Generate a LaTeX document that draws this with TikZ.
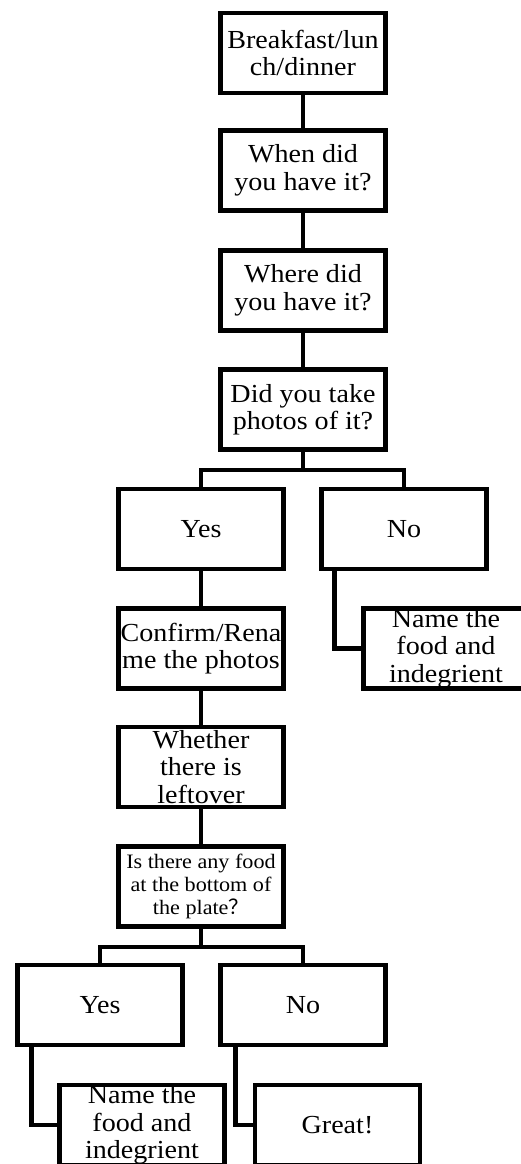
\documentclass[tikz,border=0pt]{standalone}
\usepackage{fontspec}
\setmainfont{Liberation Serif}[FakeStretch=1.08]
\newfontfamily\cjk{Noto Sans CJK SC}

\begin{document}
\begin{tikzpicture}[x=1pt, y=-1pt,
		box/.style={draw, line width=4.5pt, minimum width=165pt, minimum height=80pt, inner sep=0pt, align=center, font=\fontsize{26}{27.5}\selectfont},
		link/.style={line width=4.5pt}]
			%%%%% START %%%%%
			
			\useasboundingbox (0, 0) rectangle (521, 1164);
			
			\node[box] (meal) at (303, 53) {Breakfast/lun\\ch/dinner};
			\node[box] (when) at (303, 170.5) {When did\\you have it?};
			\node[box] (where) at (303, 290.5) {Where did\\you have it?};
			\node[box] (photos) at (303, 409.5) {Did you take\\photos of it?};
			
			\draw[link] (meal) -- (when);
			\draw[link] (when) -- (where);
			\draw[link] (where) -- (photos);
			
			\coordinate (split1) at (303, 470);
			\node[box] (yes) at (201, 529) {Yes};
			\node[box] (no) at (404, 529) {No};
			\draw[link] (photos) -- (split1);
			\draw[link] (yes.north) |- (split1) -| (no.north);
			
			\node[box] (namefood) at (446, 648.5) {Name the\\food and\\indegrient};
			\draw[link] ([xshift=15pt]no.south west) |- (namefood.west);
			
			\node[box] (rename) at (201, 648.5) {Confirm/Rena\\me the photos};
			\node[box] (leftover) at (201, 767) {Whether\\there is\\leftover};
			\node[box, font=\fontsize{20.5}{23}\selectfont] (plate) at (201, 886.5) {Is there any food\\at the bottom of\\the plate{\cjk ？}};
			
			\draw[link] (yes) -- (rename);
			\draw[link] (rename) -- (leftover);
			\draw[link] (leftover) -- (plate);
			
			\coordinate (split2) at (201, 947);
			\node[box] (yesfood) at (100, 1005) {Yes};
			\node[box] (nofood) at (303, 1005) {No};
			\draw[link] (plate) -- (split2);
			\draw[link] (yesfood.north) |- (split2) -| (nofood.north);
			
			\node[box] (namerest) at (142, 1125) {Name the\\food and\\indegrient};
			\node[box] (great) at (337.5, 1125) {Great!};
			\draw[link] ([xshift=16pt]yesfood.south west) |- (namerest.west);
			\draw[link] ([xshift=17pt]nofood.south west) |- (great.west);
			
			%%%%% END %%%%%
\end{tikzpicture}
\end{document}
